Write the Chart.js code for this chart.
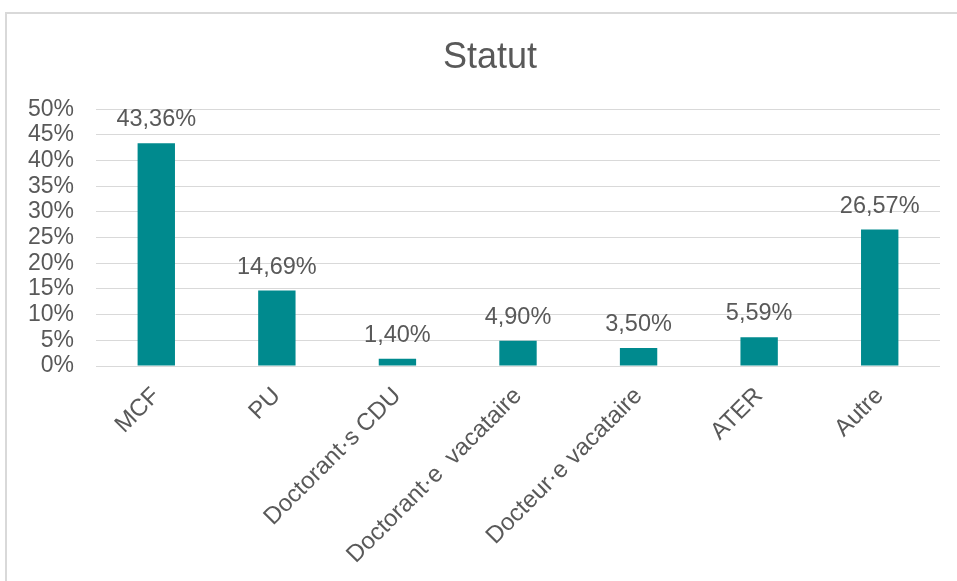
<!DOCTYPE html>
<html>
<head>
<meta charset="utf-8">
<script src="https://cdn.jsdelivr.net/npm/chart.js@4/dist/chart.umd.min.js"></script>
<style>
  html, body { margin: 0; padding: 0; background: #fff; overflow: hidden; }
  #wrap { position: relative; width: 957px; height: 581px; }
  #frame { position: absolute; left: 5px; top: 12px; width: 1000px; height: 600px;
           border: 2px solid #d9d9d9; box-sizing: border-box; }
  #myChart { position: absolute; left: 0; top: 0; }
</style>
</head>
<body>
<div id="wrap">
  <div id="frame"></div>
  <canvas id="myChart" width="957" height="581"></canvas>
</div>
<script>
// statut des répondant·es (% du total)
const categories = ['MCF', 'PU', 'Doctorant·s CDU', 'Doctorant·e  vacataire', 'Docteur·e vacataire', 'ATER', 'Autre'];
const values = [43.36, 14.69, 1.40, 4.90, 3.50, 5.59, 26.57];
const yTicks = [0, 5, 10, 15, 20, 25, 30, 35, 40, 45, 50];

const grey = '#595959';
const font = 'Liberation Sans, Arial, sans-serif';

// étiquettes de valeur au-dessus des barres
const valueLabels = {
  id: 'valueLabels',
  afterLayout(chart) {
    // le titre est centré sur le cadre complet, un peu à gauche de la zone de tracé
    if (chart.titleBlock) chart.titleBlock.left = 40;
  },
  afterDatasetsDraw(chart) {
    const ctx = chart.ctx;
    const meta = chart.getDatasetMeta(0);
    ctx.save();
    ctx.font = '23.5px ' + font;
    ctx.fillStyle = grey;
    ctx.textAlign = 'center';
    ctx.textBaseline = 'alphabetic';
    meta.data.forEach((bar, i) => {
      const txt = values[i].toFixed(2).replace('.', ',') + '%';
      ctx.fillText(txt, bar.x, bar.y - 17);
    });
    ctx.restore();
  }
};

const config = {
  type: 'bar',
  data: {
    labels: categories,
    datasets: [{
      data: values,
      backgroundColor: '#008A8E',
      categoryPercentage: 1,
      barPercentage: 0.31
    }]
  },
  options: {
    responsive: false,
    animation: false,
    layout: { padding: { left: 0, right: 17, top: 0, bottom: 0 } },
    plugins: {
      legend: { display: false },
      tooltip: { enabled: false },
      title: {
        display: true,
        text: 'Statut',
        color: grey,
        font: { family: font, size: 36, weight: 'normal', lineHeight: 1.2 },
        padding: { top: 36, bottom: 30 }
      }
    },
    scales: {
      x: {
        grid: { display: false, drawTicks: false },
        border: { display: false },
        ticks: {
          color: grey,
          font: { family: font, size: 24 },
          minRotation: 45,
          maxRotation: 45,
          padding: 16,
          labelOffset: 0,
          autoSkip: false
        },
        afterFit(axis) { axis.height = 215; }
      },
      y: {
        min: 0,
        max: 50,
        afterBuildTicks(axis) { axis.ticks = yTicks.map(v => ({ value: v })); },
        grid: { color: '#d9d9d9', lineWidth: 1, drawTicks: false },
        border: { display: false },
        ticks: {
          color: grey,
          font: { family: font, size: 23 },
          padding: 22,
          autoSkip: false,
          callback: v => v + '%'
        },
        afterFit(axis) { axis.width = 96; }
      }
    }
  },
  plugins: [valueLabels]
};

new Chart(document.getElementById('myChart').getContext('2d'), config);
</script>
</body>
</html>
